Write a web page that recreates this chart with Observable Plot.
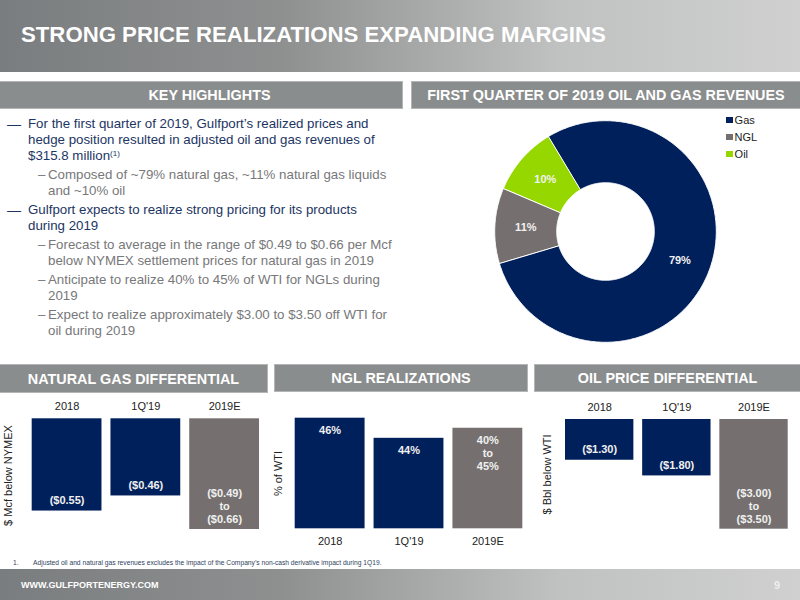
<!DOCTYPE html>
<html>
<head>
<meta charset="utf-8">
<script src="https://cdn.jsdelivr.net/npm/d3@7"></script>
<script src="https://cdn.jsdelivr.net/npm/@observablehq/plot@0.6"></script>
<style>
html,body{margin:0;padding:0;background:#fff}
#slide{position:relative;width:800px;height:600px;overflow:hidden;font-family:"Liberation Sans",Arial,sans-serif}
.abs{position:absolute;white-space:nowrap}
.band{position:absolute}
.head{position:absolute;display:flex;align-items:center;justify-content:center;color:#fff;font-weight:bold;font-size:14.4px;background:#8a8d8d;border:1px solid #b4b6b6;box-sizing:border-box}
.plotbox{position:absolute}
.plotbox svg{display:block;overflow:visible}
</style>
</head>
<body>
<div id="slide"></div>
<script>
// ---------- text ----------
const titleText = "STRONG PRICE REALIZATIONS EXPANDING MARGINS";
const footerText = "WWW.GULFPORTENERGY.COM";
const pageNumber = "9";
const footnoteNumber = "1.";
const footnoteText = "Adjusted oil and natural gas revenues excludes the impact of the Company\u2019s non-cash derivative impact during 1Q19.";
const highlightLines = [
  [1, true,  "For the first quarter of 2019, Gulfport\u2019s realized prices and", 123.5],
  [1, false, "hedge position resulted in adjusted oil and gas revenues of", 139.5],
  [1, false, "$315.8 million<sup>(1)</sup>", 155.5],
  [2, true,  "Composed of ~79% natural gas, ~11% natural gas liquids", 175],
  [2, false, "and ~10% oil", 191],
  [1, true,  "Gulfport expects to realize strong pricing for its products", 210],
  [1, false, "during 2019", 226],
  [2, true,  "Forecast to average in the range of $0.49 to $0.66 per Mcf", 245],
  [2, false, "below NYMEX settlement prices for natural gas in 2019", 261],
  [2, true,  "Anticipate to realize 40% to 45% of WTI for NGLs during", 280],
  [2, false, "2019", 296],
  [2, true,  "Expect to realize approximately $3.00 to $3.50 off WTI for", 315],
  [2, false, "oil during 2019", 331]
];

// ---------- donut ----------
const revenueNames = ["Gas", "NGL", "Oil"];
const revenueShares = [79, 11, 10];
const revenueLabels = ["79%", "11%", "10%"];
const revenueColors = ["#00205b", "#75706f", "#97d700"];

// ---------- bars ----------
const periods = ["2018", "1Q'19", "2019E"];
const barColors = ["#00205b", "#00205b", "#75706f"];
const gasValues = [0.55, 0.46, 0.66];
const gasLabels = ["($0.55)", "($0.46)", "($0.49)\nto\n($0.66)"];
const nglValues = [46, 44, 45];
const nglLabels = ["46%", "44%", "40%\nto\n45%"];
const oilValues = [1.30, 1.80, 3.50];
const oilLabels = ["($1.30)", "($1.80)", "($3.00)\nto\n($3.50)"];

const FONT = '"Liberation Sans",Arial,sans-serif';
const slide = document.getElementById("slide");

function add(cls, css, html) {
  const el = document.createElement("div");
  el.className = cls;
  el.style.cssText = css;
  if (html != null) el.innerHTML = html;
  slide.appendChild(el);
  return el;
}

// bands
const bandGrad = "linear-gradient(90deg,#7a7d7f 0%,#8e9090 35%,#c0c1c1 70%,#cfd0cf 100%)";
add("band", `left:0;top:0;width:800px;height:72px;background:${bandGrad}`);
add("abs", "left:21px;top:22px;font-size:22.2px;line-height:26px;font-weight:bold;color:#fff", titleText);
add("head", "left:-1px;top:81px;width:404px;height:28px;padding-left:17px", "KEY HIGHLIGHTS");
add("head", "left:411px;top:81px;width:390px;height:28px;", "FIRST QUARTER OF 2019 OIL AND GAS REVENUES");
add("head", "left:-1px;top:364px;width:269px;height:29px;padding-top:1px", "NATURAL GAS DIFFERENTIAL");
add("head", "left:274px;top:364px;width:254px;height:28px;", "NGL REALIZATIONS");
add("head", "left:534px;top:364px;width:267px;height:28px;", "OIL PRICE DIFFERENTIAL");
add("band", `left:0;top:569px;width:800px;height:31px;background:${bandGrad}`);
add("abs", "left:21px;top:579px;font-size:9px;line-height:12px;font-weight:bold;color:#fff", footerText);
add("abs", "left:774px;top:578px;font-size:11px;line-height:14px;font-weight:bold;color:#eee", pageNumber);
add("abs", "left:13px;top:559px;font-size:6.7px;line-height:8px;color:#2f3f60", footnoteNumber);
add("abs", "left:33px;top:559px;font-size:6.7px;line-height:8px;color:#2f3f60", footnoteText);

// bullets
for (const [level, bullet, text, yc] of highlightLines) {
  const color = level === 1 ? "#1c3563" : "#77787a";
  const tx = level === 1 ? 28 : 48;
  add("abs", `left:${tx}px;top:${yc - 8}px;font-size:13.3px;line-height:16px;color:${color}`,
      text.replace("<sup>", '<sup style="font-size:8px;line-height:0;vertical-align:4px">'));
  if (bullet) {
    add("abs", `left:${level === 1 ? 7 : 38}px;top:${yc - 8}px;font-size:${level === 1 ? 14 : 13.3}px;line-height:16px;color:${color}`,
      level === 1 ? "\u2014" : "\u2013");
  }
}

// donut : drawn with Plot.geo in a planar projection, filled through the colour scale
const cx = 205, cy = 122, rOuter = 110.8, rInner = 48.8;
const pieStart = -31 * Math.PI / 180;
const arcs = d3.pie().sort(null).startAngle(pieStart).endAngle(pieStart + 2 * Math.PI)(revenueShares);
const polar = (r, a) => [r * Math.sin(a), -r * Math.cos(a)];
const slices = arcs.map((a, i) => {
  const n = Math.ceil((a.endAngle - a.startAngle) * 90);
  const angs = d3.range(n + 1).map(k => a.startAngle + (a.endAngle - a.startAngle) * k / n);
  const ring = [...angs.map(t => polar(rOuter, t)), ...angs.slice().reverse().map(t => polar(rInner, t))];
  ring.push(ring[0]);
  const mid = polar((rOuter + rInner) / 2, (a.startAngle + a.endAngle) / 2);
  return {name: revenueNames[i], label: revenueLabels[i], lon: mid[0], lat: mid[1],
          geometry: {type: "Polygon", coordinates: [ring]}};
});
const pieBox = add("plotbox", "left:400px;top:109px;width:400px;height:250px");
pieBox.appendChild(Plot.plot({
  width: 400, height: 250, margin: 0,
  style: {fontFamily: FONT, background: "transparent"},
  projection: d3.geoIdentity().translate([cx, cy]),
  color: {domain: revenueNames, range: revenueColors},
  marks: [
    Plot.geo(slices, {geometry: "geometry", fill: "name", stroke: "#fff", strokeWidth: 1}),
    Plot.text(slices, {x: "lon", y: "lat", text: "label", fill: "#f2f2f2", fontSize: 11, fontWeight: "bold"})
  ]
}));

// legend
revenueNames.forEach((n, i) => {
  const yc = 120 + i * 17;
  add("abs", `left:726px;top:${yc - 3.3}px;width:6.6px;height:6.6px;background:${revenueColors[i]}`);
  add("abs", `left:734.6px;top:${yc - 7}px;font-size:11px;line-height:14px;color:#222`, n);
});

// bar charts
function barChart(o) {
  const rows = periods.map((p, i) => ({p, v: o.values[i], label: o.labels[i], c: barColors[i], multi: o.labels[i].includes("\n")}));
  const box = add("plotbox", `left:${o.left}px;top:395px;width:${o.width}px;height:160px`);
  box.appendChild(Plot.plot({
    width: o.width, height: 160,
    marginLeft: o.ml, marginRight: o.mr, marginTop: o.mt, marginBottom: o.mb,
    style: {fontFamily: FONT, fontSize: "11px", background: "transparent", color: "#222"},
    x: {domain: periods, padding: 0.114, round: false, axis: null},
    y: {domain: o.domain, reverse: o.reverse, axis: null},
    marks: [
      Plot.barY(rows, {x: "p", y1: o.base, y2: "v", fill: "c"}),
      Plot.text(rows.filter(d => !d.multi), {x: "p", y: "v", text: "label", fill: "#f0f0f0", fontSize: 11, fontWeight: "bold", dy: o.dy1}),
      Plot.text(rows.filter(d => d.multi), {x: "p", y: "v", text: "label", fill: "#f0f0f0", fontSize: 11, fontWeight: "bold", dy: o.dy3, lineHeight: 1.18}),
      Plot.axisX({anchor: o.anchor, tickSize: 0, tickPadding: o.pad, label: null, fontSize: 11, fill: "#222"}),
      Plot.text([o.title], {frameAnchor: "top-left", dx: o.tx, dy: o.ty, rotate: -90, textAnchor: "middle", lineAnchor: "middle", fontSize: 11, fill: "#222"})
    ]
  }));
}
barChart({left: 0, width: 270, ml: 22.7, mr: 2, mt: 23.3, mb: 26, values: gasValues, labels: gasLabels,
  domain: [0, 0.66], reverse: true, base: 0, dy1: -10.7, dy3: -23.7, anchor: "top", pad: 9, title: "$ Mcf below NYMEX", tx: -14.4, ty: 56.7});
barChart({left: 270, width: 265, ml: 15.7, mr: 3.7, mt: 22.7, mb: 26.7, values: nglValues, labels: nglLabels,
  domain: [35, 46], reverse: false, base: 35, dy1: 12.3, dy3: 24.5, anchor: "bottom", pad: 8, title: "% of WTI", tx: -7.7, ty: 55.3});
barChart({left: 535, width: 265, ml: 21.2, mr: 3.5, mt: 24, mb: 26.3, values: oilValues, labels: oilLabels,
  domain: [0, 3.5], reverse: true, base: 0, dy1: -10.7, dy3: -23.7, anchor: "top", pad: 9, title: "$ Bbl below WTI", tx: -9.5, ty: 55});
</script>
</body>
</html>
